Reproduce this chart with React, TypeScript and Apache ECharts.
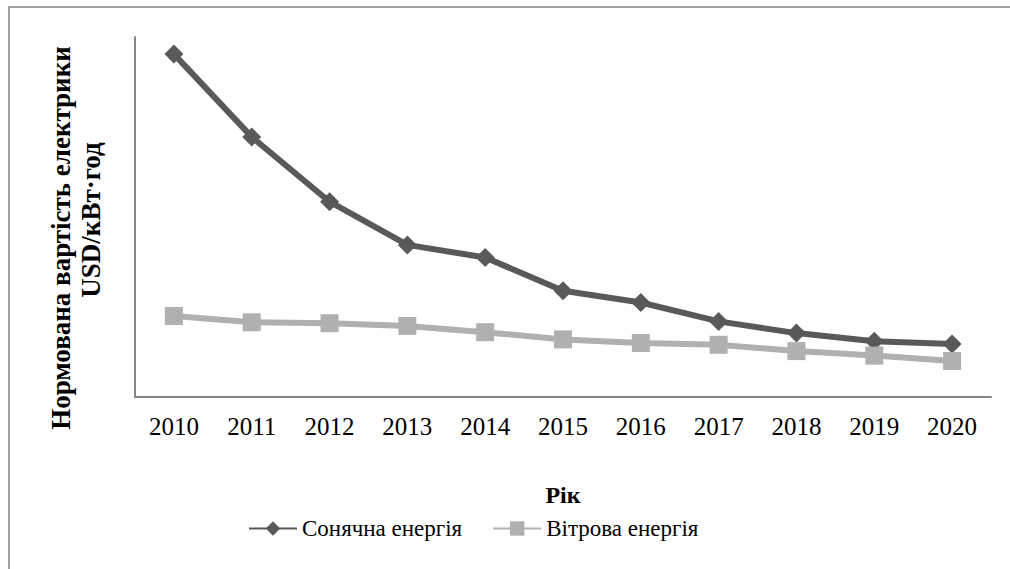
import React, { useEffect, useRef } from "react";
import * as echarts from "echarts";

const years = ["2010", "2011", "2012", "2013", "2014", "2015", "2016", "2017", "2018", "2019", "2020"];
const solar = [0.381, 0.289, 0.217, 0.169, 0.155, 0.118, 0.105, 0.084, 0.071, 0.062, 0.059];
const wind = [0.09, 0.083, 0.082, 0.079, 0.072, 0.064, 0.06, 0.058, 0.051, 0.046, 0.04];
const solarName = "Сонячна енергія";
const windName = "Вітрова енергія";
const xTitle = "Рік";
const yTitle1 = "Нормована вартість електрики";
const yTitle2 = "USD/кВт·год";

const FONT = "Liberation Serif";

export default function App() {
  const ref = useRef<HTMLDivElement>(null);
  useEffect(() => {
    if (!ref.current) return;
    const chart = echarts.init(ref.current, undefined, { renderer: "svg" });
    chart.setOption({
      animation: false,
      backgroundColor: "#ffffff",
      textStyle: { fontFamily: FONT },
      grid: { left: 135, right: 19, top: 37, bottom: 172, containLabel: false },
      legend: {
        left: 243,
        top: 512,
        itemWidth: 48,
        itemHeight: 18,
        itemGap: 30,
        textStyle: { fontFamily: FONT, fontSize: 23, color: "#000" },
        data: [solarName, windName],
      },
      xAxis: {
        type: "category",
        data: years,
        boundaryGap: true,
        axisLine: { show: true, lineStyle: { color: "#868686", width: 2 } },
        axisTick: { show: false },
        axisLabel: { fontFamily: FONT, fontSize: 25, color: "#000", margin: 17 },
        name: xTitle,
        nameLocation: "middle",
        nameGap: 86,
        nameTextStyle: { fontFamily: FONT, fontSize: 24, fontWeight: "bold", color: "#000" },
      },
      yAxis: {
        type: "value",
        min: 0,
        max: 0.4,
        axisLine: { show: true, lineStyle: { color: "#868686", width: 2 } },
        axisTick: { show: false },
        axisLabel: { show: false },
        splitLine: { show: false },
      },
      graphic: [
        {
          type: "rect",
          shape: { x: 9, y: 7, width: 1200, height: 800 },
          style: { fill: "none", stroke: "#a0a0a0", lineWidth: 2 },
          silent: true,
        },
        {
          type: "text",
          x: 61,
          y: 238,
          rotation: Math.PI / 2,
          style: {
            text: yTitle1,
            fontFamily: FONT,
            fontSize: 27,
            fontWeight: "bold",
            fill: "#000",
            align: "center",
            verticalAlign: "middle",
          },
        },
        {
          type: "text",
          x: 91,
          y: 220,
          rotation: Math.PI / 2,
          style: {
            text: yTitle2,
            fontFamily: FONT,
            fontSize: 27,
            fontWeight: "bold",
            fill: "#000",
            align: "center",
            verticalAlign: "middle",
          },
        },
      ],
      series: [
        {
          name: solarName,
          type: "line",
          data: solar,
          symbol: "diamond",
          symbolSize: 19,
          lineStyle: { color: "#595959", width: 6 },
          itemStyle: { color: "#595959" },
        },
        {
          name: windName,
          type: "line",
          data: wind,
          symbol: "rect",
          symbolSize: 18,
          lineStyle: { color: "#b0b0b0", width: 6 },
          itemStyle: { color: "#b0b0b0" },
        },
      ],
    });
    return () => chart.dispose();
  }, []);
  return (
    <div
      ref={ref}
      style={{ position: "fixed", left: 0, top: 0, width: 1010, height: 569 }}
    />
  );
}
